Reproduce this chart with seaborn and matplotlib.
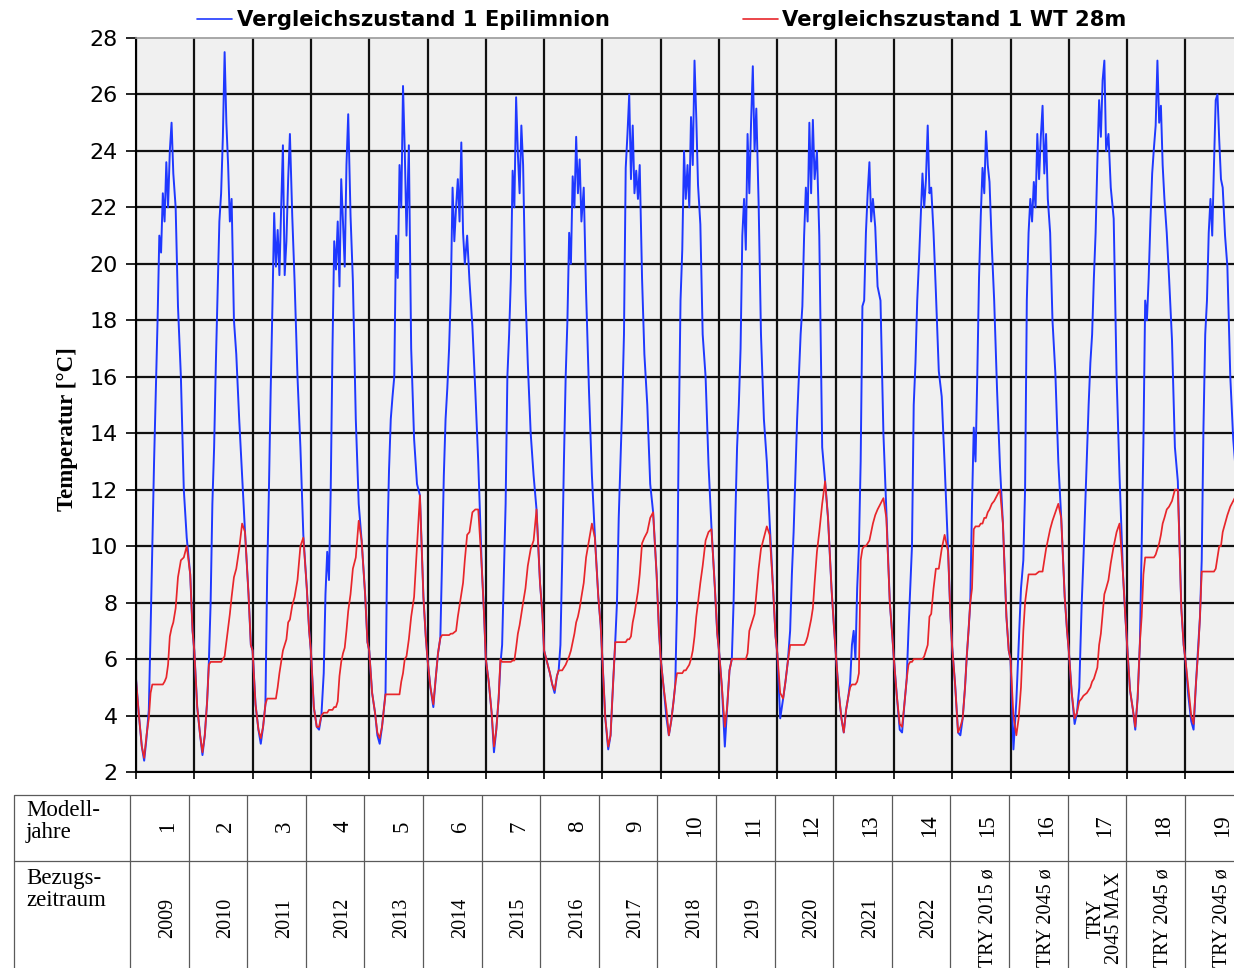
import matplotlib
matplotlib.use("Agg")
import matplotlib.pyplot as plt
import numpy as np
import pandas as pd
import seaborn as sns
from matplotlib.lines import Line2D

# ---------------- data ----------------
# sampling points inside each model year (fraction of the year)
year_fraction = [0.00, 0.05, 0.10, 0.14, 0.18, 0.22, 0.25, 0.28, 0.31, 0.34, 0.37, 0.40, 0.43,
                 0.46, 0.49, 0.52, 0.55, 0.58, 0.61, 0.64, 0.68, 0.72, 0.77, 0.82, 0.87, 0.93, 0.97]

# Epilimnion temperature [°C] per model year
epi_01 = [5.3, 4.0, 2.9, 2.4, 3.2, 4.2, 7.0, 10.0, 13.0, 15.5, 18.0, 21.0, 20.4, 22.5, 21.5, 23.6, 22.0, 24.0, 25.0, 23.2, 22.0, 18.5, 16.0, 12.0, 10.3, 9.0, 7.0]
epi_02 = [6.3, 4.3, 3.3, 2.6, 3.3, 4.5, 5.9, 8.0, 11.5, 13.5, 16.5, 19.0, 21.5, 22.5, 24.5, 27.5, 25.0, 23.5, 21.5, 22.3, 18.0, 16.8, 14.5, 12.5, 10.5, 8.3, 6.5]
epi_03 = [6.3, 4.4, 3.5, 3.0, 3.6, 4.4, 9.0, 12.0, 15.5, 18.5, 21.8, 19.9, 21.2, 19.6, 22.0, 24.2, 19.6, 20.8, 23.0, 24.6, 21.7, 19.4, 16.0, 13.5, 10.4, 8.5, 7.0]
epi_04 = [6.3, 4.3, 3.6, 3.5, 4.0, 5.5, 8.3, 9.8, 8.8, 12.0, 17.0, 20.8, 19.8, 21.5, 19.2, 23.0, 21.5, 19.9, 23.5, 25.3, 21.7, 19.4, 14.5, 11.5, 10.2, 8.3, 6.6]
epi_05 = [6.3, 4.8, 4.1, 3.3, 3.0, 3.6, 4.2, 4.8, 10.0, 12.7, 14.5, 15.3, 16.0, 21.0, 19.5, 23.5, 22.0, 26.3, 24.0, 21.0, 24.2, 17.0, 13.8, 12.2, 11.8, 8.2, 6.8]
epi_06 = [6.0, 5.0, 4.3, 5.3, 6.2, 6.75, 9.5, 12.5, 14.5, 15.6, 17.0, 19.0, 22.7, 20.8, 22.0, 23.0, 21.5, 24.3, 21.1, 20.0, 21.0, 19.4, 17.8, 15.5, 13.0, 9.3, 7.6]
epi_07 = [6.0, 5.2, 4.1, 2.7, 3.5, 4.6, 5.8, 6.5, 9.0, 11.5, 16.0, 17.5, 19.5, 23.3, 22.0, 25.9, 23.9, 22.5, 24.9, 23.5, 19.0, 16.5, 14.0, 12.5, 11.3, 8.7, 7.6]
epi_08 = [6.3, 5.9, 5.5, 5.1, 4.8, 5.4, 5.6, 6.5, 9.5, 13.0, 16.0, 18.0, 21.1, 20.0, 23.1, 22.0, 24.5, 22.5, 23.7, 21.5, 22.7, 19.0, 15.5, 12.5, 10.4, 8.2, 7.2]
epi_09 = [6.0, 3.9, 2.8, 3.3, 5.0, 6.6, 8.0, 11.0, 13.0, 15.0, 17.5, 23.4, 24.6, 26.0, 23.0, 24.9, 22.5, 23.3, 22.3, 23.5, 19.5, 16.8, 15.0, 12.2, 11.2, 9.0, 7.0]
epi_10 = [6.0, 5.0, 3.9, 3.3, 3.8, 4.5, 5.1, 8.0, 14.0, 18.7, 20.5, 24.0, 22.3, 23.5, 22.0, 25.2, 23.5, 27.2, 25.2, 22.8, 21.4, 17.5, 16.0, 12.9, 10.7, 8.5, 6.9]
epi_11 = [6.3, 5.0, 2.9, 4.3, 5.6, 6.0, 8.0, 11.0, 13.5, 15.0, 17.0, 21.0, 22.3, 20.5, 24.6, 22.5, 25.0, 27.0, 24.0, 25.5, 22.1, 17.5, 14.5, 13.0, 10.8, 8.4, 6.8]
epi_12 = [6.2, 3.9, 4.6, 5.2, 5.9, 7.0, 9.0, 10.5, 12.5, 14.5, 16.0, 17.5, 18.5, 21.0, 22.7, 21.5, 25.0, 22.5, 25.1, 23.0, 24.0, 21.0, 13.5, 12.3, 11.0, 8.5, 7.2]
epi_13 = [6.3, 4.9, 3.9, 3.4, 4.2, 4.7, 5.2, 6.5, 7.0, 6.0, 8.5, 10.0, 13.0, 18.5, 18.7, 21.1, 22.5, 23.6, 21.5, 22.3, 21.3, 19.2, 18.7, 14.0, 11.3, 8.0, 6.9]
epi_14 = [6.0, 4.7, 3.5, 3.4, 4.4, 5.3, 7.0, 8.5, 10.0, 15.0, 16.5, 18.7, 20.1, 21.7, 23.2, 22.0, 23.0, 24.9, 22.5, 22.7, 21.1, 19.0, 16.2, 15.3, 12.9, 9.8, 7.5]
epi_15 = [6.4, 5.1, 3.4, 3.3, 3.9, 5.0, 6.1, 7.0, 8.0, 11.5, 14.2, 13.0, 16.0, 19.5, 21.7, 23.4, 22.5, 24.7, 23.5, 22.9, 20.6, 18.7, 15.5, 12.8, 10.8, 7.5, 6.3]
epi_16 = [6.0, 2.8, 4.5, 6.5, 8.5, 9.5, 12.0, 18.7, 21.1, 22.3, 21.5, 22.9, 22.0, 24.6, 23.0, 24.5, 25.6, 23.2, 24.6, 22.3, 21.1, 18.0, 16.1, 13.0, 11.0, 8.2, 7.0]
epi_17 = [6.3, 4.8, 3.7, 4.1, 5.0, 7.9, 9.5, 11.3, 13.2, 15.0, 16.5, 17.5, 19.5, 21.1, 23.6, 25.8, 24.5, 26.5, 27.2, 24.0, 24.6, 22.7, 21.6, 16.0, 12.5, 9.0, 7.5]
epi_18 = [6.5, 4.9, 4.2, 3.5, 4.6, 6.6, 10.0, 13.7, 18.7, 18.0, 19.5, 21.5, 23.2, 24.1, 24.9, 27.2, 25.0, 25.6, 23.5, 22.3, 21.1, 19.5, 17.3, 13.5, 12.3, 7.8, 6.5]
epi_19 = [6.0, 4.7, 3.8, 3.5, 5.1, 6.5, 7.5, 9.5, 14.2, 17.5, 18.7, 21.1, 22.3, 21.0, 23.5, 25.8, 26.0, 24.4, 23.0, 22.7, 21.0, 19.9, 16.0, 13.8, 12.5]

# water temperature at 28 m depth [°C] per model year
wt_01 = [5.3, 4.0, 2.9, 2.5, 3.3, 3.9, 4.8, 5.1, 5.1, 5.1, 5.1, 5.1, 5.1, 5.1, 5.2, 5.35, 5.8, 6.8, 7.1, 7.3, 7.8, 8.9, 9.5, 9.6, 10.0, 9.0, 7.0]
wt_02 = [6.3, 4.3, 3.3, 2.7, 3.3, 4.5, 5.8, 5.9, 5.9, 5.9, 5.9, 5.9, 5.9, 5.9, 6.0, 6.1, 6.6, 7.1, 7.6, 8.2, 8.9, 9.2, 9.9, 10.8, 10.5, 8.3, 6.5]
wt_03 = [6.3, 4.4, 3.5, 3.2, 3.6, 4.4, 4.6, 4.6, 4.6, 4.6, 4.6, 4.6, 5.0, 5.5, 5.9, 6.3, 6.5, 6.7, 7.3, 7.4, 7.9, 8.2, 8.8, 10.0, 10.3, 8.5, 7.0]
wt_04 = [6.3, 4.3, 3.6, 3.6, 4.0, 4.1, 4.1, 4.1, 4.2, 4.2, 4.2, 4.3, 4.3, 4.5, 5.4, 5.9, 6.2, 6.4, 7.0, 7.7, 8.3, 9.2, 9.6, 10.9, 10.2, 8.3, 6.6]
wt_05 = [6.3, 4.8, 4.1, 3.4, 3.2, 3.6, 4.2, 4.75, 4.75, 4.75, 4.75, 4.75, 4.75, 4.75, 4.75, 4.75, 5.2, 5.5, 6.0, 6.1, 6.7, 7.5, 8.2, 10.0, 11.8, 8.2, 6.8]
wt_06 = [6.0, 5.0, 4.4, 5.3, 6.2, 6.75, 6.85, 6.85, 6.85, 6.85, 6.85, 6.9, 6.9, 6.95, 7.0, 7.5, 7.9, 8.3, 8.7, 9.5, 10.4, 10.5, 11.2, 11.3, 11.3, 9.3, 7.6]
wt_07 = [6.0, 5.2, 4.1, 2.9, 3.5, 4.6, 6.0, 5.9, 5.9, 5.9, 5.9, 5.9, 5.9, 5.95, 5.95, 6.4, 6.9, 7.2, 7.6, 8.0, 8.5, 9.3, 9.9, 10.2, 11.3, 8.7, 7.6]
wt_08 = [6.3, 5.9, 5.5, 5.1, 4.9, 5.4, 5.6, 5.6, 5.6, 5.7, 5.8, 5.95, 6.1, 6.3, 6.6, 6.9, 7.3, 7.5, 7.8, 8.2, 8.7, 9.6, 10.2, 10.8, 10.3, 8.2, 7.2]
wt_09 = [6.0, 3.9, 2.9, 3.3, 5.0, 6.6, 6.6, 6.6, 6.6, 6.6, 6.6, 6.6, 6.7, 6.7, 6.8, 7.3, 7.6, 8.0, 8.4, 9.0, 10.1, 10.3, 10.5, 11.0, 11.2, 9.0, 7.0]
wt_10 = [6.0, 5.0, 4.2, 3.3, 3.8, 4.5, 5.1, 5.5, 5.5, 5.5, 5.5, 5.6, 5.6, 5.7, 5.8, 6.0, 6.3, 6.8, 7.5, 8.0, 8.7, 9.3, 10.2, 10.5, 10.6, 8.5, 6.9]
wt_11 = [6.3, 5.0, 3.6, 4.3, 5.6, 6.0, 6.0, 6.0, 6.0, 6.0, 6.0, 6.0, 6.0, 6.0, 6.2, 7.0, 7.2, 7.4, 7.6, 8.3, 9.2, 9.9, 10.3, 10.7, 10.4, 8.4, 6.8]
wt_12 = [6.2, 4.8, 4.6, 5.2, 5.9, 6.5, 6.5, 6.5, 6.5, 6.5, 6.5, 6.5, 6.5, 6.5, 6.6, 6.8, 7.1, 7.4, 7.8, 8.7, 9.8, 10.5, 11.5, 12.3, 11.0, 8.5, 7.2]
wt_13 = [6.3, 4.9, 3.9, 3.4, 4.2, 4.7, 5.0, 5.1, 5.1, 5.1, 5.2, 5.5, 9.5, 9.9, 10.0, 10.0, 10.1, 10.2, 10.5, 10.8, 11.1, 11.3, 11.5, 11.7, 11.0, 8.0, 6.9]
wt_14 = [6.0, 4.7, 3.7, 3.6, 4.4, 5.3, 5.8, 5.9, 5.9, 6.0, 6.0, 6.0, 6.0, 6.0, 6.0, 6.1, 6.3, 6.5, 7.5, 7.6, 8.5, 9.2, 9.2, 9.9, 10.4, 9.8, 7.5]
wt_15 = [6.4, 5.1, 3.4, 3.6, 3.9, 5.0, 6.1, 7.0, 8.0, 8.5, 10.6, 10.7, 10.7, 10.7, 10.8, 10.8, 11.0, 11.0, 11.2, 11.3, 11.5, 11.6, 11.8, 12.0, 10.8, 7.5, 6.3]
wt_16 = [6.0, 4.0, 3.3, 3.9, 5.0, 7.0, 8.0, 8.5, 9.0, 9.0, 9.0, 9.0, 9.0, 9.05, 9.1, 9.1, 9.1, 9.5, 9.9, 10.2, 10.6, 10.9, 11.2, 11.5, 11.0, 8.2, 7.0]
wt_17 = [6.3, 4.8, 3.9, 4.1, 4.5, 4.6, 4.7, 4.75, 4.8, 4.9, 5.0, 5.2, 5.3, 5.5, 5.7, 6.5, 6.9, 7.6, 8.3, 8.5, 8.8, 9.4, 10.0, 10.5, 10.8, 9.0, 7.5]
wt_18 = [6.5, 4.9, 4.2, 3.6, 4.6, 6.6, 7.5, 9.0, 9.6, 9.6, 9.6, 9.6, 9.6, 9.6, 9.7, 9.9, 10.1, 10.4, 10.8, 11.0, 11.3, 11.4, 11.6, 12.0, 12.0, 7.8, 6.5]
wt_19 = [6.0, 5.0, 4.0, 3.7, 5.1, 6.3, 7.5, 9.1, 9.1, 9.1, 9.1, 9.1, 9.1, 9.1, 9.1, 9.2, 9.6, 10.0, 10.0, 10.5, 10.8, 11.1, 11.4, 11.6, 11.8]

series_labels = ["Vergleichszustand 1 Epilimnion", "Vergleichszustand 1 WT 28m"]
modell_jahre = ["1", "2", "3", "4", "5", "6", "7", "8", "9", "10",
                "11", "12", "13", "14", "15", "16", "17", "18", "19"]
bezugszeitraum = ["2009", "2010", "2011", "2012", "2013", "2014", "2015", "2016", "2017",
                  "2018", "2019", "2020", "2021", "2022", "TRY 2015 ø", "TRY 2045 ø",
                  "TRY\n2045 MAX", "TRY 2045 ø", "TRY 2045 ø"]
temp_ticks = [2, 4, 6, 8, 10, 12, 14, 16, 18, 20, 22, 24, 26, 28]

epi_years = [epi_01, epi_02, epi_03, epi_04, epi_05, epi_06, epi_07, epi_08, epi_09, epi_10,
             epi_11, epi_12, epi_13, epi_14, epi_15, epi_16, epi_17, epi_18, epi_19]
wt_years = [wt_01, wt_02, wt_03, wt_04, wt_05, wt_06, wt_07, wt_08, wt_09, wt_10,
            wt_11, wt_12, wt_13, wt_14, wt_15, wt_16, wt_17, wt_18, wt_19]

rows = []
for label, years in zip(series_labels, [epi_years, wt_years]):
    for k, vals in enumerate(years):
        for f, v in zip(year_fraction, vals):
            rows.append((k + f, v, label))
df = pd.DataFrame(rows, columns=["Modelljahr", "Temperatur", "Serie"])

# ---------------- style ----------------
sns.set_style("white")
plt.rcParams["font.family"] = ["DejaVu Sans"]
plt.rcParams["text.color"] = "black"
plt.rcParams["xtick.color"] = "black"
plt.rcParams["ytick.color"] = "black"

BLUE = "#1f38ff"
RED = "#e8262b"
W, H = 1234, 968
YEAR_PX = 58.3

fig = plt.figure(figsize=(W / 100, H / 100), dpi=100)
ax = fig.add_axes([136 / W, 1 - 772 / H, 1 - 136 / W, (772 - 38) / H])
ax.set_facecolor("#f0f0f0")

sns.lineplot(data=df, x="Modelljahr", y="Temperatur", hue="Serie", hue_order=series_labels,
             palette=[BLUE, RED], estimator=None, sort=False, legend=False, ax=ax)
ax.lines[0].set_linewidth(1.4)
ax.lines[1].set_linewidth(1.25)

ax.set_xlim(0, (W - 136) / YEAR_PX)
ax.set_ylim(2, 28)
ax.set_xticks(np.arange(0, 19))
ax.set_xticklabels([])
ax.set_yticks(temp_ticks)
ax.set_yticklabels([str(t) for t in temp_ticks])
ax.set_xlabel("")
ax.set_ylabel("")
ax.tick_params(axis="y", labelsize=16, length=7, width=1.2, pad=6, direction="out", left=True,
               colors="black")
ax.tick_params(axis="x", length=5, width=1.2, direction="out", bottom=True, colors="black")
ax.set_axisbelow(True)
ax.grid(True, color="#111111", linewidth=1.6)
ax.get_ygridlines()[-1].set_visible(False)
ax.spines["right"].set_visible(False)
ax.spines["top"].set_color("#9a9a9a")
ax.spines["top"].set_linewidth(1.2)
for s in ["left", "bottom"]:
    ax.spines[s].set_color("black")
    ax.spines[s].set_linewidth(1.5)

fig.text(67 / W, 1 - 429 / H, "Temperatur [°C]", rotation=90, ha="center", va="center",
         fontsize=16.5, fontweight="bold", family="Liberation Serif", color="black")

handles = [Line2D([], [], color=BLUE, lw=1.2), Line2D([], [], color=RED, lw=1.2)]
leg = fig.legend(handles, series_labels, loc="center left", bbox_to_anchor=(197 / W, 1 - 20 / H),
                 ncol=2, frameon=False, borderpad=0, borderaxespad=0, handlelength=1.68,
                 handletextpad=0.2, columnspacing=6.3,
                 prop={"family": "DejaVu Sans", "weight": "bold", "size": 15.2})
for t in leg.get_texts():
    t.set_color("black")

# ---------------- table below the chart ----------------
COL_PX = 58.6
tab_left, tab_top = 14, 795
ax_t = fig.add_axes([tab_left / W, 0, 1 - tab_left / W, (H - tab_top) / H])
first_w = (130 - tab_left) / COL_PX
ax_t.set_xlim(-first_w, (W - 130) / COL_PX)
ax_t.set_ylim(0, 1)
ax_t.axis("off")
mid = (H - 861) / (H - tab_top)
lc = "#5a5a5a"
ax_t.axhline(1, color=lc, lw=0.9, clip_on=False)
ax_t.axhline(mid, color=lc, lw=0.9, clip_on=False)
ax_t.vlines([-first_w] + list(range(0, 19)), 0, 1, color=lc, lw=0.9, clip_on=False)

serif = "Liberation Serif"
ax_t.text(-first_w + 12 / COL_PX, (H - 800) / (H - tab_top), "Modell-\njahre", ha="left", va="top",
          fontsize=16.5, family=serif, linespacing=1.05)
ax_t.text(-first_w + 12 / COL_PX, (H - 868) / (H - tab_top), "Bezugs-\nzeitraum", ha="left", va="top",
          fontsize=16.5, family=serif, linespacing=1.05)
xoff = 8 / COL_PX
y1 = (H - 826) / (H - tab_top)
y2 = (H - 918) / (H - tab_top)
for k, (m, b) in enumerate(zip(modell_jahre, bezugszeitraum)):
    xc = k + 0.5 + xoff
    ax_t.text(xc, y1, m, rotation=90, ha="center", va="center", fontsize=16.5, family=serif)
    ax_t.text(xc, y2, b, rotation=90, ha="center", va="center", fontsize=14.5, family=serif,
              multialignment="center", linespacing=0.95)

fig.savefig("out.png", dpi=100)
